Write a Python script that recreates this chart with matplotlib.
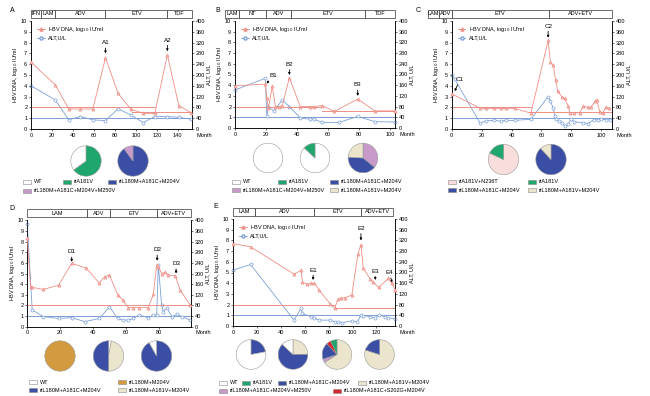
import matplotlib
matplotlib.use("Agg")
import matplotlib.pyplot as plt
from matplotlib.patches import Rectangle
from matplotlib.lines import Line2D
import matplotlib.transforms as mtransforms

plt.rcParams['font.family'] = ['Liberation Sans', 'DejaVu Sans']
plt.rcParams['axes.linewidth'] = 0.5

W, H = 650, 396
RED = '#ee8e86'
BLUE = '#7c9fd6'
C_WT = '#ffffff'
C_A181V = '#1ea66c'
C_TRIPLE = '#3a4ea6'
C_M250V = '#c79ac9'
C_A181VTRI = '#ece5cd'
C_N236T = '#f9dcdc'
C_M204V = '#d39a3f'
C_S202G = '#d8262e'

# ---------------- data ----------------
A_dna_x = [0, 23, 36, 47, 59, 71, 83, 95, 107, 118, 130, 141, 153]
A_dna_y = [6.2, 4.1, 1.85, 1.85, 1.85, 6.6, 3.3, 1.85, 1.45, 1.45, 6.85, 2.15, 1.5]
A_alt_x = [0, 23, 36, 47, 59, 71, 83, 95, 107, 118, 130, 141, 153]
A_alt_y = [160, 108, 34, 46, 34, 31, 75, 52, 24, 46, 46, 43, 36]
A_treat = [('IFN', 0, 9.5), ('LAM', 9.5, 23), ('ADV', 23, 71), ('ETV', 71, 130), ('TDF', 130, 153.5)]
A_marks = [('A1', 71, 7.75, 7.0), ('A2', 130, 8.0, 7.2)]
A_pies = [[0.65, 0.35], [0.9, 0.1]]
A_pie_cols = [[C_A181V, C_WT], [C_TRIPLE, C_M250V]]

B_dna_x = [0, 19.5, 20.5, 21.5, 24, 26, 28.5, 30.5, 35, 42, 48, 51, 56, 64, 79, 90, 103]
B_dna_y = [3.95, 4.1, 2.8, 1.85, 3.9, 2.0, 2.0, 2.1, 4.7, 2.0, 2.0, 2.0, 2.1, 1.55, 2.7, 1.6, 1.6]
B_alt_x = [0, 19.5, 20.5, 21.5, 25, 30.5, 35, 42, 48, 51, 56, 67, 79, 90, 103]
B_alt_y = [142, 186, 43, 78, 64, 105, 80, 38, 33, 33, 21, 21, 43, 24, 22]
B_treat = [('LAM', -6.2, 2.4), ('NT', 2.4, 19.9), ('ADV', 19.9, 35.9), ('ETV', 35.9, 84), ('TDF', 84, 103)]
B_marks = [('B2', 35, 5.7, 4.95), ('B3', 79, 3.8, 3.0)]
B_pies = [[1.0], [0.87, 0.13], [0.36, 0.40, 0.24]]
B_pie_cols = [[C_WT], [C_WT, C_A181V], [C_M250V, C_TRIPLE, C_A181VTRI]]

C_dna_x = [0, 19, 23, 28, 33, 36, 42, 53, 64.5, 66, 68, 69.5, 71, 73.5, 75.5, 78, 79,
           82, 85.5, 88, 91, 93, 96, 97, 99, 101, 103, 105.5]
C_dna_y = [3.25, 1.93, 1.9, 1.9, 1.9, 1.9, 1.9, 1.47, 8.2, 6.2, 5.9, 4.5, 3.5, 3.0, 2.85, 2.1, 1.5,
           1.5, 1.5, 2.15, 2.0, 2.0, 2.55, 2.7, 1.6, 1.5, 2.0, 1.93]
C_alt_x = [0, 2, 19, 23, 28, 33, 36, 42, 53, 64.5, 66, 68, 69, 70, 72, 74, 76, 78, 80,
           82, 88, 91, 95, 98, 100, 103, 106]
C_alt_y = [200, 185, 22, 30, 32, 29, 32, 32, 36, 120, 102, 77, 47, 37, 28, 22, 10, 20, 37,
           26, 24, 20, 34, 34, 37, 34, 34]
C_treat = [('LAM', -16, -8.5), ('ADV', -8.5, 0), ('ETV', 0, 65), ('ADV+ETV', 65, 107)]
C_marks = [('C2', 64.5, 9.3, 8.45)]
C_pies = [[0.82, 0.18], [0.88, 0.12]]
C_pie_cols = [[C_N236T, C_A181V], [C_TRIPLE, C_A181VTRI]]

D_dna_x = [0, 2, 3, 9.7, 19, 27, 36, 43.8, 47, 50, 55, 58, 61.5, 64.5, 68, 73.6, 76.7,
           78.7, 79.7, 81.7, 83.8, 85.8, 90, 93, 99]
D_dna_y = [8.3, 3.75, 3.7, 3.5, 3.9, 5.95, 5.5, 4.1, 4.7, 4.85, 3.0, 2.5, 1.8, 1.8, 1.8, 1.8, 3.05,
           5.8, 5.65, 5.0, 5.1, 4.85, 4.8, 3.45, 2.05]
D_alt_x = [0, 3, 9.7, 19, 27, 35, 43.8, 50, 55, 58, 61.5, 64.5, 68, 73.6, 76.7, 78.7, 79.7,
           81.7, 82.7, 85, 88, 91, 94, 99]
D_alt_y = [385, 63, 38, 31, 34, 19, 31, 75, 31, 25, 25, 31, 44, 34, 44, 44, 232,
           82, 57, 69, 38, 46, 38, 25]
D_treat = [('LAM', 0, 36.5), ('ADV', 36.5, 50.3), ('ETV', 50.3, 78.7), ('ADV+ETV', 78.7, 99.4)]
D_marks = [('D1', 27, 6.8, 6.1), ('D2', 79, 7.0, 6.2), ('D3', 90.5, 5.7, 5.0)]
D_pies = [[1.0], [0.03, 0.47, 0.50], [0.92, 0.08]]
D_pie_cols = [[C_M204V], [C_WT, C_A181VTRI, C_TRIPLE], [C_TRIPLE, C_WT]]

E_dna_x = [0, 14.7, 51, 57, 58, 62, 65, 68, 71.7, 81.4, 85, 87.8, 90.5, 94, 99.4, 104.4,
           107, 109, 114.7, 117.5, 121.7, 130, 132.8, 135.5]
E_dna_y = [7.7, 7.4, 4.85, 5.2, 4.1, 3.9, 4.0, 4.0, 3.4, 2.05, 1.65, 2.5, 2.6, 2.65, 2.9, 6.7,
           7.6, 5.4, 4.4, 4.1, 3.6, 4.45, 4.0, 3.4]
E_alt_x = [0, 14.7, 51, 57, 58, 65, 68, 71.7, 81.4, 85, 88, 91, 99.4, 104, 107, 109,
           114.7, 119, 121.7, 127, 130, 135.5]
E_alt_y = [209, 230, 22, 66, 47, 35, 31, 22, 22, 16, 16, 12, 19, 16, 41, 39,
           35, 29, 41, 35, 31, 26]
E_treat = [('LAM', 0, 18.3), ('ADV', 18.3, 68), ('ETV', 68, 107), ('ADV+ETV', 107, 134)]
E_marks = [('E1', 67, 5.0, 4.3), ('E2', 107, 8.9, 8.0), ('E3', 119, 4.9, 4.3)]
E_pies = [[0.22, 0.78], [0.25, 0.62, 0.13], [0.66, 0.04, 0.18, 0.05, 0.07], [0.8, 0.2]]
E_pie_cols = [[C_TRIPLE, C_WT], [C_A181VTRI, C_TRIPLE, C_WT],
              [C_A181VTRI, C_M250V, C_TRIPLE, C_S202G, C_A181V], [C_A181VTRI, C_TRIPLE]]

legend_A = [('WT', C_WT), ('rtA181V', C_A181V), ('rtL180M+A181C+M204V', C_TRIPLE),
            ('rtL180M+A181C+M204V+M250V', C_M250V)]
legend_B = [('WT', C_WT), ('rtA181V', C_A181V), ('rtL180M+A181C+M204V', C_TRIPLE),
            ('rtL180M+A181C+M204V+M250V', C_M250V), ('rtL180M+A181V+M204V', C_A181VTRI)]
legend_C = [('rtA181V+N236T', C_N236T), ('rtA181V', C_A181V),
            ('rtL180M+A181C+M204V', C_TRIPLE), ('rtL180M+A181V+M204V', C_A181VTRI)]
legend_D = [('WT', C_WT), ('rtL180M+M204V', C_M204V),
            ('rtL180M+A181C+M204V', C_TRIPLE), ('rtL180M+A181V+M204V', C_A181VTRI)]
legend_E = [('WT', C_WT), ('rtA181V', C_A181V), ('rtL180M+A181C+M204V', C_TRIPLE),
            ('rtL180M+A181V+M204V', C_A181VTRI), ('rtL180M+A181C+M204V+M250V', C_M250V),
            ('rtL180M+A181C+S202G+M204V', C_S202G)]

FS = 4

fig = plt.figure(figsize=(W / 100, H / 100), dpi=100)


def px_axes(l, t, r, b):
    return fig.add_axes([l / W, 1 - b / H, (r - l) / W, (b - t) / H])


def panel(box, xlim, xticks, dna_x, dna_y, alt_x, alt_y, treat, marks, red_lines,
          show_legend=True):
    ax = px_axes(*box)
    ax2 = ax.twinx()
    ax.set_xlim(*xlim)
    ax.set_ylim(0, 10)
    ax2.set_ylim(0, 400)
    ax.set_yticks(range(0, 11))
    ax2.set_yticks(range(0, 401, 40))
    ax.set_xticks(xticks)
    for a in (ax, ax2):
        a.tick_params(labelsize=FS, length=1.5, width=0.4, pad=1.2)
        a.spines['top'].set_visible(False)
        for s in a.spines.values():
            s.set_linewidth(0.5)
    for (lvl, x0, x1) in red_lines:
        ax.plot([x0, x1], [lvl, lvl], color=RED, lw=0.7, zorder=1)
    ax2.plot(list(xlim), [40, 40], color=BLUE, lw=0.7, zorder=1)
    ax2.plot(alt_x, alt_y, color=BLUE, lw=0.6, marker='o', ms=2.2, mfc='white',
             mec=BLUE, mew=0.5, zorder=3, clip_on=False)
    ax.plot(dna_x, dna_y, color=RED, lw=0.6, marker='^', ms=2.2, mfc='#f6c2bd',
            mec=RED, mew=0.5, zorder=4, clip_on=False)
    ax.set_zorder(ax2.get_zorder() + 1)
    ax.patch.set_visible(False)
    ax.set_ylabel('HBV DNA, log$_{10}$ IU/ml', fontsize=FS, labelpad=0.5)
    ax2.set_ylabel('ALT, U/L', fontsize=FS, labelpad=1)
    ax.text(1.03, -0.035, 'Month', transform=ax.transAxes, fontsize=FS, ha='left', va='top')
    trans = mtransforms.blended_transform_factory(ax.transData, ax.transAxes)
    for (lab, x0, x1) in treat:
        ax.add_patch(Rectangle((x0, 1.03), x1 - x0, 0.075, transform=trans, fill=True,
                               facecolor='white', edgecolor='#333333', lw=0.5, clip_on=False))
        ax.text((x0 + x1) / 2, 1.067, lab, transform=trans, fontsize=FS, ha='center',
                va='center', clip_on=False)
    for (lab, x, ylab, ytip) in marks:
        ax.annotate(lab, xy=(x, ytip), xytext=(x, ylab), fontsize=FS + 0.5, ha='center',
                    va='bottom',
                    arrowprops=dict(arrowstyle='-|>', color='black', lw=0.6,
                                    mutation_scale=3, shrinkA=0, shrinkB=0))
    if show_legend:
        h = [Line2D([], [], color=RED, marker='^', ms=2.2, mfc='#f6c2bd', mec=RED, lw=0.6),
             Line2D([], [], color=BLUE, marker='o', ms=2.2, mfc='white', mec=BLUE, lw=0.6)]
        ax.legend(h, ['HBV DNA, log$_{10}$ IU/ml', 'ALT,U/L'], loc='upper left',
                  bbox_to_anchor=(0.02, 0.99), fontsize=FS, frameon=False,
                  handlelength=1.4, labelspacing=0.3, borderaxespad=0.1, handletextpad=0.6)
    return ax


def pies(centers, r, fracs, cols):
    for (cx, cy), f, c in zip(centers, fracs, cols):
        pa = px_axes(cx - r, cy - r, cx + r, cy + r)
        pa.pie(f, colors=c, startangle=90, counterclock=False,
               wedgeprops=dict(edgecolor='#999999', linewidth=0.4))
        pa.set_aspect('equal')
        pa.axis('off')


def legend(items, positions):
    for (lab, col), (x, y) in zip(items, positions):
        fig.patches.append(Rectangle(((x) / W, 1 - (y + 2) / H), 8 / W, 4 / H,
                                     transform=fig.transFigure, facecolor=col,
                                     edgecolor='#888888', lw=0.4))
        fig.text((x + 11) / W, 1 - y / H, lab, fontsize=FS, va='center', ha='left')


# Panel A
axA = panel((31, 21, 192, 129), (0, 153.5), range(0, 141, 20), A_dna_x, A_dna_y,
            A_alt_x, A_alt_y, A_treat, A_marks, [(2, 0, 118), (1.6, 96, 153.5)])
axA.annotate('A3', xy=(154, 1.75), xytext=(148, 2.6), fontsize=FS + 0.5, ha='center',
             va='bottom', arrowprops=dict(arrowstyle='-|>', color='black', lw=0.6,
                                          mutation_scale=3, shrinkA=0, shrinkB=0))
pies([(86, 161), (133, 161)], 19, A_pies, A_pie_cols)
legend(legend_A, [(23, 182), (63, 182), (108, 182), (23, 191)])

# Panel B
axB = panel((235, 21, 395, 128), (0, 103), range(0, 101, 20), B_dna_x, B_dna_y,
            B_alt_x, B_alt_y, B_treat, B_marks, [(2, 0, 56), (1.6, 56, 103)])
axB.annotate('B1', xy=(20.3, 4.15), xytext=(24.5, 4.65), fontsize=FS + 0.5, ha='center',
             va='bottom', arrowprops=dict(arrowstyle='-|>', color='black', lw=0.6,
                                          mutation_scale=3, shrinkA=0, shrinkB=0))
pies([(268, 158), (315, 158), (363, 158)], 18.5, B_pies, B_pie_cols)
legend(legend_B, [(232, 182), (278, 182), (330, 182), (232, 190), (330, 190)])

# Panel C
axC = panel((451.7, 21, 611.7, 129), (0, 107), range(0, 101, 20), C_dna_x, C_dna_y,
            C_alt_x, C_alt_y, C_treat, C_marks, [(2, 0, 53), (1.55, 52, 107)])
axC.annotate('C1', xy=(2, 3.5), xytext=(5.5, 4.35), fontsize=FS + 0.5, ha='center',
             va='bottom', arrowprops=dict(arrowstyle='-|>', color='black', lw=0.6,
                                          mutation_scale=3, shrinkA=0, shrinkB=0))
pies([(503.5, 159.5), (551, 159.5)], 19, C_pies, C_pie_cols)
legend(legend_C, [(448, 182), (528, 182), (448, 190), (528, 190)])

# Panel D
axD = panel((27.3, 220.3, 190.7, 326.7), (0, 99.4), range(0, 81, 20), D_dna_x, D_dna_y,
            D_alt_x, D_alt_y, D_treat, D_marks, [(2, 0, 99.4)], show_legend=False)
pies([(60, 356), (108.5, 356), (156.5, 356)], 19, D_pies, D_pie_cols)
legend(legend_D, [(29, 382), (118, 382), (29, 390), (118, 390)])

# Panel E
axE = panel((233, 219, 395, 326), (0, 135.5), range(0, 121, 20), E_dna_x, E_dna_y,
            E_alt_x, E_alt_y, E_treat, E_marks, [(2, 0, 85), (1.65, 85, 135.5)])
axE.annotate('E4', xy=(133, 4.05), xytext=(131, 4.75), fontsize=FS + 0.5, ha='center',
             va='bottom', arrowprops=dict(arrowstyle='-|>', color='black', lw=0.6,
                                          mutation_scale=3, shrinkA=0, shrinkB=0))
pies([(251, 354.5), (293, 354.5), (337, 354.5), (379.5, 354.5)], 18.5, E_pies, E_pie_cols)
legend(legend_E, [(219, 383), (242, 383), (278, 383), (358, 383), (219, 391), (333, 391)])

# panel letters
for lab, x, y in [('A', 12, 10), ('B', 218, 10), ('C', 418, 10), ('D', 12, 208), ('E', 216, 207)]:
    fig.text(x / W, 1 - y / H, lab, fontsize=5, ha='center', va='center')

fig.savefig('out.png', dpi=100)
